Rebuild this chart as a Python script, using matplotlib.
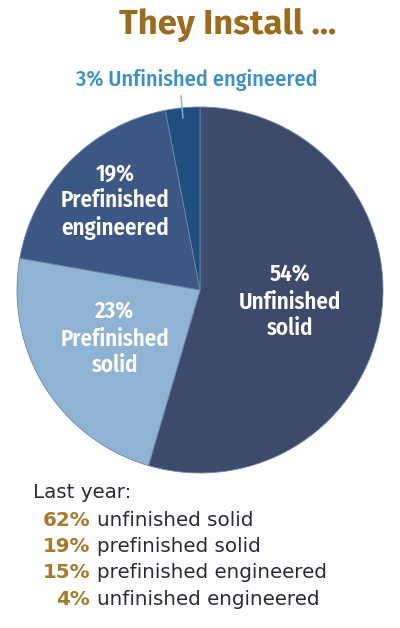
import matplotlib
matplotlib.use("Agg")
import matplotlib.pyplot as plt

# Data
categories = ["Unfinished\nsolid", "Prefinished\nsolid", "Prefinished\nengineered", "Unfinished engineered"]
values = [54, 23, 19, 3]
last_year_pct = [62, 19, 15, 4]
last_year_labels = ["unfinished solid", "prefinished solid", "prefinished engineered", "unfinished engineered"]

colors = ["#3c4a6c", "#8fb3d3", "#3d5785", "#1f4f80"]

COND = ["Fira Sans Condensed", "DejaVu Sans"]
TITLE = ["Fira Sans", "DejaVu Sans"]

W, H = 400, 628
fig = plt.figure(figsize=(W / 100, H / 100), dpi=100)
fig.patch.set_facecolor("white")

def fx(x):
    return x / W

def fy(y):
    return 1 - y / H

cx, cy, r = 200, 290, 183
ax = fig.add_axes([fx(cx - r), fy(cy + r), 2 * r / W, 2 * r / H])
wedges, _ = ax.pie(values, colors=colors, startangle=90, counterclock=False,
                   wedgeprops=dict(edgecolor="#6f85a8", linewidth=0.6))
ax.set_aspect("equal")
ax.set_xlim(-1, 1)
ax.set_ylim(-1, 1)
ax.axis("off")

# Title
fig.text(fx(228), fy(25), "They Install ...", color="#9c6c1c", fontsize=25,
         fontweight="bold", ha="center", va="center", family=TITLE)

# Outer label for small slice
fig.text(fx(197), fy(80), f"{values[3]}% {categories[3]}", color="#3a8fd0",
         fontsize=16, fontweight="medium", ha="center", va="center", family=COND)
fig.add_artist(plt.Line2D([fx(181), fx(183)], [fy(96), fy(118)], color="#7fb2e0", linewidth=1))

# Inner labels
inner_pos = [(290, 302), (115, 339), (115, 201)]
for i, (x, y) in enumerate(inner_pos):
    fig.text(fx(x), fy(y), f"{values[i]}%\n{categories[i]}", color="white",
             fontsize=16.5, fontweight="semibold", ha="center", va="center",
             linespacing=1.2, family=COND)

# Last year text
fs = 14.3
fig.text(fx(33), fy(493), "Last year:", color="#2a2a3a", fontsize=fs,
         ha="left", va="center")
for i, (p, lab) in enumerate(zip(last_year_pct, last_year_labels)):
    y = 520 + i * 26.5
    fig.text(fx(90), fy(y), f"{p}%", color="#a87a2c", fontsize=fs,
             fontweight="bold", ha="right", va="center")
    fig.text(fx(97), fy(y), lab, color="#2a2a3a", fontsize=fs,
             ha="left", va="center")

fig.savefig("out.png", dpi=100, facecolor="white")
